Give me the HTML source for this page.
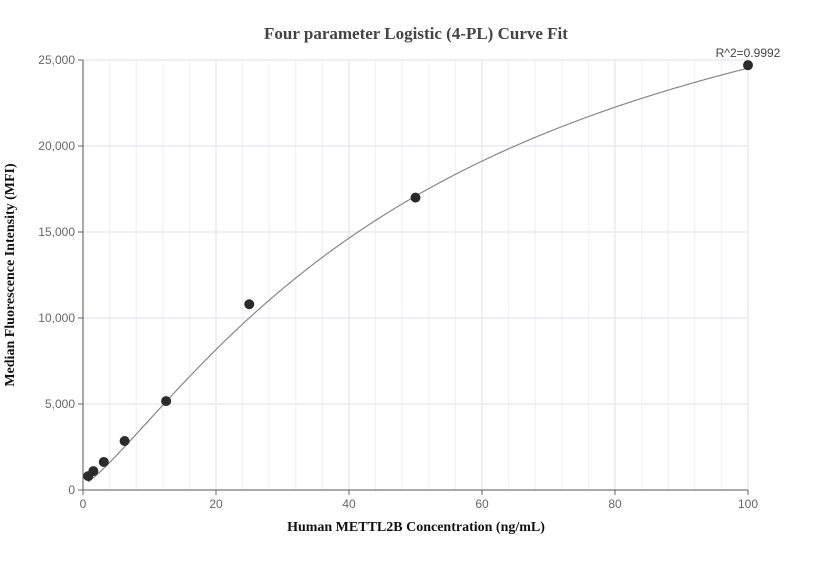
<!DOCTYPE html>
<html><head><meta charset="utf-8"><style>
body{margin:0;background:#fff;width:832px;height:560px;overflow:hidden}
svg text{font-family:"Liberation Sans",sans-serif}
</style></head><body>
<svg id="chart" width="832" height="560">
<text x="416" y="39" text-anchor="middle" font-family="Liberation Serif" font-weight="bold" font-size="17" fill="#444" style="font-family:'Liberation Serif',serif">Four parameter Logistic (4-PL) Curve Fit</text>
<g id="grid"></g><g id="axes"></g><g id="curve"></g><g id="points"></g>
<text x="416" y="531" text-anchor="middle" font-weight="bold" font-size="14" fill="#111" style="font-family:'Liberation Serif',serif">Human METTL2B Concentration (ng/mL)</text>
<text transform="translate(14,275) rotate(-90)" text-anchor="middle" font-weight="bold" font-size="14" fill="#111" style="font-family:'Liberation Serif',serif">Median Fluorescence Intensity (MFI)</text>
</svg>
<script>
const conc=[0.78,1.56,3.125,6.25,12.5,25,50,100];
const mfi=[810,1100,1630,2850,5170,10800,17000,24700];
const xTicks=[0,20,40,60,80,100];
const yTicks=[0,5000,10000,15000,20000,25000];
const yTickLabels=["0","5,000","10,000","15,000","20,000","25,000"];
const fitParams=[300,1.25,55,36000];
const r2Label="R^2=0.9992";
const NS="http://www.w3.org/2000/svg";
const X0=83,X1=748,Y0=490,Y1=60;
const sx=v=>X0+(v/100)*(X1-X0);
const sy=v=>Y0-(v/25000)*(Y0-Y1);
function mk(tag,attrs,parent){const e=document.createElementNS(NS,tag);for(const k in attrs)e.setAttribute(k,attrs[k]);parent.appendChild(e);return e;}
const grid=document.getElementById('grid'),axes=document.getElementById('axes'),cg=document.getElementById('curve'),pg=document.getElementById('points');
for(let v=4;v<100;v+=4){if(v%20===0)continue;const l=mk('line',{x1:sx(v),x2:sx(v),y1:Y1,y2:Y0,stroke:'#eef0f7'},grid);

}
xTicks.forEach(v=>{if(v===0)return;const l=mk('line',{x1:sx(v),x2:sx(v),y1:Y1,y2:Y0,stroke:'#dde2ee'},grid);

});
yTicks.forEach((v,i)=>{if(v>0){const l=mk('line',{x1:X0,x2:X1,y1:sy(v),y2:sy(v),stroke:'#dde2ee'},grid);

}
mk('line',{x1:X0-5,x2:X0,y1:sy(v),y2:sy(v),stroke:'#666'},axes);
const t=mk('text',{x:X0-8,y:sy(v)+4,'text-anchor':'end','font-size':12,fill:'#666'},axes);t.textContent=yTickLabels[i];

});
xTicks.forEach(v=>{mk('line',{x1:sx(v),x2:sx(v),y1:Y0,y2:Y0+5,stroke:'#666'},axes);
const t=mk('text',{x:sx(v),y:Y0+18,'text-anchor':'middle','font-size':12,fill:'#666'},axes);t.textContent=v;

});
const ya=mk('line',{x1:X0,x2:X0,y1:Y1,y2:Y0,stroke:'#555'},axes);


const xa=mk('line',{x1:X0,x2:X1,y1:Y0,y2:Y0,stroke:'#555'},axes);


const [A,B,C,D]=fitParams;
const f=x=>D+(A-D)/(1+Math.pow(x/C,B));
let d='';for(let i=0;i<=400;i++){const x=conc[0]+(conc[conc.length-1]-conc[0])*i/400;d+=(i?'L':'M')+sx(x).toFixed(2)+','+sy(f(x)).toFixed(2);}
const p=mk('path',{d:d,fill:'none',stroke:'#888','stroke-width':1.2},cg);


conc.forEach((c,i)=>{const e=mk('circle',{cx:sx(c),cy:sy(mfi[i]),r:5,fill:'#2b2b2b'},pg);

});
const li=conc.length-1;
const r=mk('text',{x:sx(conc[li]),y:sy(mfi[li])-8,'text-anchor':'middle','font-size':12,fill:'#444'},pg);r.textContent=r2Label;


</script>
</body></html>
